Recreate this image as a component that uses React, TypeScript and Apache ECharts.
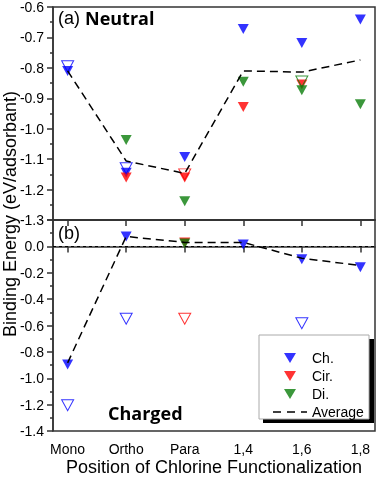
import React, { useEffect, useRef } from "react";
import * as echarts from "echarts";

const categories = ["Mono", "Ortho", "Para", "1,4", "1,6", "1,8"];
const xPositions = [1, 2, 3, 4, 5, 6];

// Neutral panel (a)
const neutralCh = [-0.81, -1.145, -1.093, -0.672, -0.718, -0.641];
const neutralCir = [null, -1.16, -1.16, -0.929, -0.855, null];
const neutralDi = [null, -1.037, -1.238, -0.846, -0.874, -0.92];
const neutralAvg = [-0.81, -1.106, -1.147, -0.81, -0.814, -0.774];
const neutralOpenCh = [-0.795, -1.13, null, null, null, null];
const neutralOpenCir = [null, null, -1.15, null, null, null];
const neutralOpenDi = [null, null, null, null, -0.845, null];

// Charged panel (b)
const chargedCh = [-0.895, 0.075, null, 0.015, -0.098, -0.158];
const chargedCir = [null, null, 0.03, null, null, null];
const chargedDi = [null, null, 0.022, null, null, null];
const chargedAvg = [-0.883, 0.075, 0.03, 0.03, -0.09, -0.145];
const chargedOpenCh = [-1.205, -0.549, null, null, -0.583, null];
const chargedOpenCir = [null, null, -0.549, null, null, null];

const BLUE = "#0000ff";
const RED = "#ff0000";
const GREEN = "#0a7d0a";
const TRI = "path://M0,0L12,0L6,10Z";
const DASH_ICON = "path://M0,0h8v1.5h-8z M14,0h8v1.5h-8z M28,0h6v1.5h-6z";
const FONT = "'Liberation Sans', Arial, sans-serif";
const BOLD_FONT = "'Open Sans', sans-serif";

function pairs(vals: (number | null)[]) {
  const out: number[][] = [];
  vals.forEach((v, i) => {
    if (v !== null) out.push([xPositions[i], v]);
  });
  return out;
}

function filled(name: string, vals: (number | null)[], color: string, idx: number) {
  return {
    type: "scatter",
    name,
    xAxisIndex: idx,
    yAxisIndex: idx,
    symbol: TRI,
    symbolSize: [11, 10],
    itemStyle: { color },
    data: pairs(vals),
    z: 3,
  };
}

function open(name: string, vals: (number | null)[], color: string, idx: number) {
  return {
    type: "scatter",
    name,
    xAxisIndex: idx,
    yAxisIndex: idx,
    symbol: TRI,
    symbolSize: [12, 11],
    itemStyle: { color: "rgba(0,0,0,0)", borderColor: color, borderWidth: 1 },
    data: pairs(vals),
    z: 4,
  };
}

export default function App() {
  const ref = useRef<HTMLDivElement>(null);
  useEffect(() => {
    if (!ref.current) return;
    const chart = echarts.init(ref.current, null, { renderer: "svg" });
    const axisLine = { show: true, lineStyle: { color: "#333", width: 1.5 } };
    const xAxisBase = {
      type: "value",
      min: 0.75,
      max: 6.25,
      axisLine,
      splitLine: { show: false },
      axisTick: { show: true, customValues: xPositions, length: 6, lineStyle: { color: "#333", width: 1.5 } },
    };
    const yAxisBase = {
      type: "value",
      axisLine,
      splitLine: { show: false },
      axisTick: { show: true, length: 6, lineStyle: { color: "#333", width: 1.5 } },
      minorTick: { show: true, splitNumber: 2, length: 3, lineStyle: { color: "#333", width: 1.5 } },
    };
    const option = {
      animation: false,
      grid: [
        { left: 53, top: 7, width: 322, height: 213, show: true, borderColor: "#333", borderWidth: 1.5 },
        { left: 53, top: 220, width: 322, height: 212, show: true, borderColor: "#333", borderWidth: 1.5 },
      ],
      xAxis: [
        { ...xAxisBase, gridIndex: 0, axisLabel: { show: false } },
        {
          ...xAxisBase,
          gridIndex: 1,
          axisLabel: {
            show: true,
            customValues: xPositions,
            formatter: (v: number) => categories[Math.round(v) - 1] ?? "",
            fontSize: 14,
            fontFamily: FONT,
            color: "#000",
            margin: 11,
          },
          name: "Position of Chlorine Functionalization",
          nameLocation: "middle",
          nameGap: 27,
          nameTextStyle: { fontSize: 18, fontFamily: FONT, color: "#000" },
        },
      ],
      yAxis: [
        {
          ...yAxisBase,
          gridIndex: 0,
          min: -1.3,
          max: -0.6,
          interval: 0.1,
          axisLabel: {
            fontSize: 14,
            fontFamily: FONT,
            color: "#000",
            margin: 9,
            formatter: (v: number) => v.toFixed(1),
          },
        },
        {
          ...yAxisBase,
          gridIndex: 1,
          min: -1.4,
          max: 0.2,
          interval: 0.2,
          axisLabel: {
            fontSize: 14,
            fontFamily: FONT,
            color: "#000",
            margin: 9,
            formatter: (v: number) => (v > 0.1 ? "" : Math.abs(v) < 1e-9 ? "0.0" : v.toFixed(1)),
          },
        },
      ],
      legend: {
        left: 273,
        top: 351,
        padding: 0,
        orient: "vertical",
        itemWidth: 34,
        itemHeight: 10,
        itemGap: 4,
        selectedMode: false,
        textStyle: { fontSize: 14, fontFamily: FONT, color: "#000" },
        data: [
          { name: "Ch.", icon: TRI },
          { name: "Cir.", icon: TRI },
          { name: "Di.", icon: TRI },
          { name: "Average", icon: DASH_ICON },
        ],
        z: 6,
      },
      graphic: [
        { type: "rect", z: 5, shape: { x: 263, y: 339, width: 111, height: 84 }, style: { fill: "#000" } },
        {
          type: "rect",
          z: 5,
          shape: { x: 259, y: 335, width: 110, height: 84 },
          style: { fill: "#fff", stroke: "#aaa", lineWidth: 1 },
        },
        {
          type: "text",
          x: 58,
          y: 9,
          z: 6,
          style: {
            text: "{a|(a) }{b|Neutral}",
            rich: {
              a: { fontSize: 18, fontFamily: FONT, fill: "#000" },
              b: { fontSize: 18, fontFamily: BOLD_FONT, fontWeight: "bold", fill: "#000" },
            },
          },
        },
        {
          type: "text",
          x: 58,
          y: 224,
          z: 6,
          style: { text: "(b)", fontSize: 18, fontFamily: FONT, fill: "#000" },
        },
        {
          type: "text",
          x: 108,
          y: 404,
          z: 6,
          style: { text: "Charged", fontSize: 18, fontFamily: BOLD_FONT, fontWeight: "bold", fill: "#000" },
        },
        {
          type: "text",
          x: 10,
          y: 214,
          rotation: Math.PI / 2,
          z: 6,
          style: {
            text: "Binding Energy (eV/adsorbant)",
            fontSize: 18,
            fontFamily: FONT,
            fill: "#000",
            align: "center",
            verticalAlign: "middle",
          },
        },
      ],
      series: [
        filled("Ch.", neutralCh, BLUE, 0),
        filled("Cir.", neutralCir, RED, 0),
        filled("Di.", neutralDi, GREEN, 0),
        open("openCh0", neutralOpenCh, BLUE, 0),
        open("openCir0", neutralOpenCir, RED, 0),
        open("openDi0", neutralOpenDi, GREEN, 0),
        {
          type: "line",
          name: "Average",
          xAxisIndex: 0,
          yAxisIndex: 0,
          symbol: "none",
          lineStyle: { color: "#000", width: 1.5, type: [8, 5] },
          itemStyle: { color: "#000" },
          data: pairs(neutralAvg),
          z: 5,
        },
        filled("Ch.", chargedCh, BLUE, 1),
        filled("Cir.", chargedCir, RED, 1),
        filled("Di.", chargedDi, GREEN, 1),
        open("openCh1", chargedOpenCh, BLUE, 1),
        open("openCir1", chargedOpenCir, RED, 1),
        {
          type: "line",
          name: "Average",
          xAxisIndex: 1,
          yAxisIndex: 1,
          symbol: "none",
          lineStyle: { color: "#000", width: 1.5, type: [8, 5] },
          itemStyle: { color: "#000" },
          data: pairs(chargedAvg),
          z: 5,
          markLine: {
            silent: true,
            symbol: ["none", "none"],
            label: { show: false },
            lineStyle: { color: "#000", width: 1, type: [3, 3] },
            data: [{ yAxis: 0 }],
          },
        },
      ],
    };
    chart.setOption(option as any);
    return () => chart.dispose();
  }, []);
  return <div ref={ref} style={{ position: "fixed", left: 0, top: 0, width: 378, height: 477 }} />;
}
